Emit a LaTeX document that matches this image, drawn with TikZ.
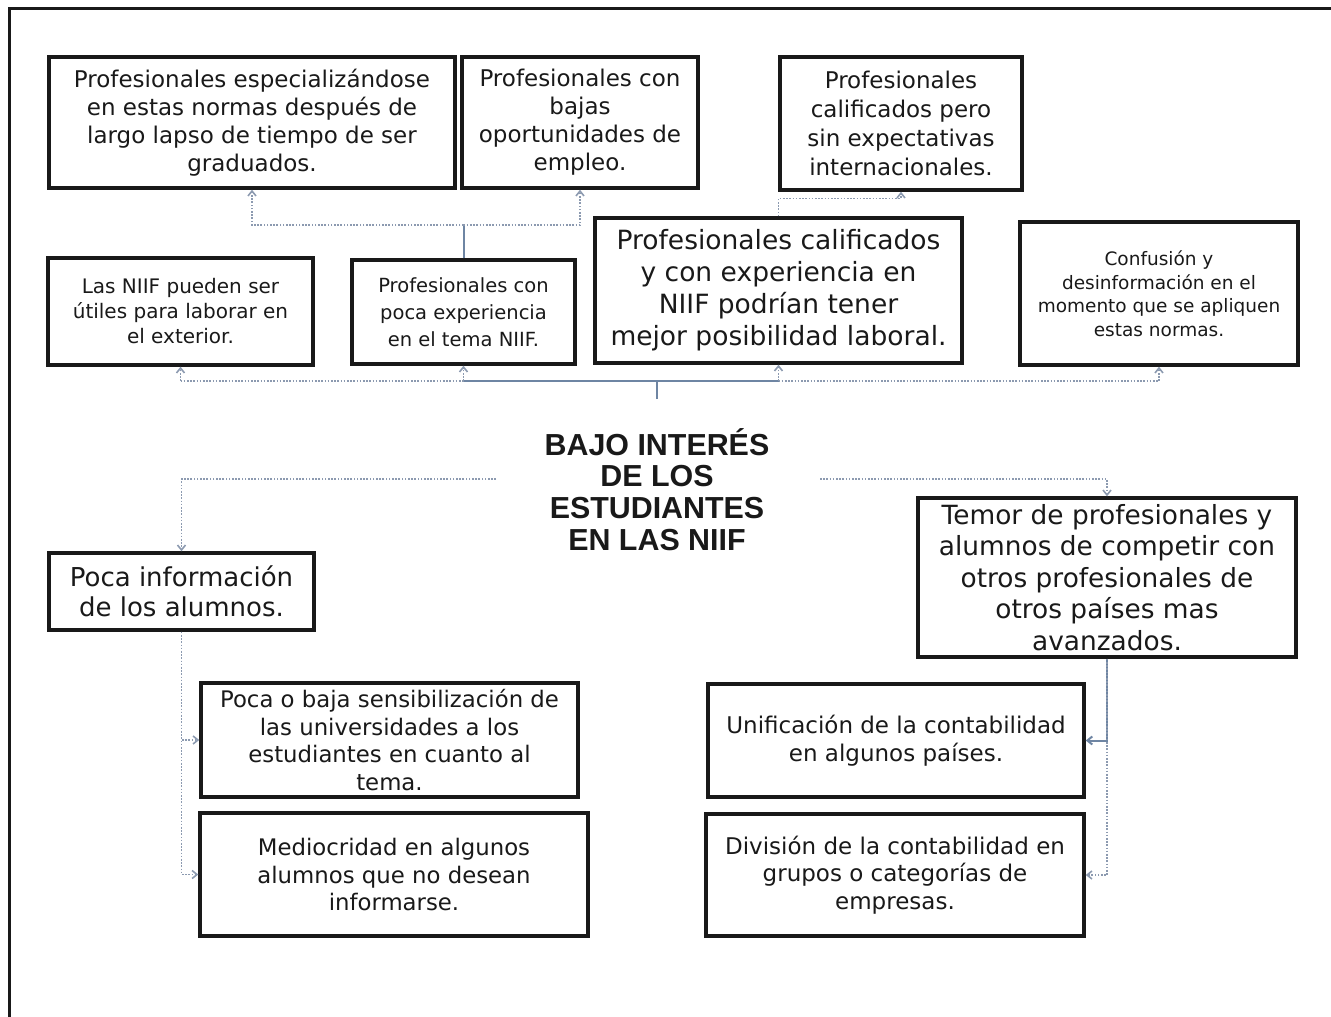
\documentclass[tikz,border=0pt]{standalone}
\usepackage{fontspec}
\setmainfont{DejaVu Sans}
\newfontfamily\titlefont{Liberation Sans}
\usetikzlibrary{arrows.meta}
\definecolor{linkblue}{HTML}{6E85A3}
\definecolor{dotblue}{HTML}{8C9AB0}
\begin{document}
\begin{tikzpicture}
            [x=1pt, y=-1pt,
             box/.style = {draw=black!90, line width=3.4pt, align=center, inner sep=0pt, text=black!90},
             link/.style = {draw=linkblue, line width=2pt},
             dotlink/.style = {draw=dotblue, line width=1.6pt, dash pattern=on 1.6pt off 1.6pt},
             tip/.style = {-{Straight Barb[length=5pt,width=8pt]}}]
            \useasboundingbox (0,0) rectangle (1331,1017);
            \draw[line width=3pt, black!90] (9,1017) -- (9,8) -- (1331,8);
            \node[box, minimum width=406, minimum height=131, font=\fontsize{23}{28}\selectfont] (A) at (252,122.5) {Profesionales especializándose\\en estas normas después de\\largo lapso de tiempo de ser\\graduados.};
            \node[box, minimum width=236, minimum height=131, font=\fontsize{23}{28}\selectfont] (B) at (580,122.5) {Profesionales con\\bajas\\oportunidades de\\empleo.};
            \node[box, minimum width=242, minimum height=133, font=\fontsize{23}{29}\selectfont] (C) at (901,123.5) {Profesionales\\calificados pero\\sin expectativas\\internacionales.};
            \node[box, minimum width=265, minimum height=107, font=\fontsize{20}{25}\selectfont] (D) at (180.5,311.5) {Las NIIF pueden ser\\útiles para laborar en\\el exterior.};
            \node[box, minimum width=223, minimum height=104, font=\fontsize{19.5}{27}\selectfont] (E) at (463.5,312) {Profesionales con\\poca experiencia\\en el tema NIIF.};
            \node[box, minimum width=367, minimum height=145, font=\fontsize{26.5}{32}\selectfont] (F) at (778.5,290.5) {Profesionales calificados\\y con experiencia en\\NIIF podrían tener\\mejor posibilidad laboral.};
            \node[box, minimum width=278, minimum height=143, font=\fontsize{18.5}{23.5}\selectfont] (G) at (1159,293.5) {Confusión y\\desinformación en el\\momento que se apliquen\\estas normas.};
            \node[align=center, text=black!90, font=\titlefont\bfseries\fontsize{30.4}{31.7}\selectfont] (T) at (657,489.5) {BAJO INTERÉS\\DE LOS\\ESTUDIANTES\\EN LAS NIIF};
            \node[box, minimum width=265, minimum height=77, font=\fontsize{26}{30}\selectfont] (H) at (181.5,591.5) {Poca información\\de los alumnos.};
            \node[box, minimum width=377, minimum height=114, font=\fontsize{22.8}{27.5}\selectfont] (I) at (389.5,740) {Poca o baja sensibilización de\\las universidades a los\\estudiantes en cuanto al\\tema.};
            \node[box, minimum width=388, minimum height=123, font=\fontsize{22.8}{27.5}\selectfont] (J) at (394,874.5) {Mediocridad en algunos\\alumnos que no desean\\informarse.};
            \node[box, minimum width=378, minimum height=159, font=\fontsize{26.4}{31.5}\selectfont] (K) at (1107,577.5) {Temor de profesionales y\\alumnos de competir con\\otros profesionales de\\otros países mas\\avanzados.};
            \node[box, minimum width=376, minimum height=113, font=\fontsize{23}{28}\selectfont] (L) at (896,740.5) {Unificación de la contabilidad\\en algunos países.};
            \node[box, minimum width=378, minimum height=122, font=\fontsize{23}{27.5}\selectfont] (M) at (895,875) {División de la contabilidad en\\grupos o categorías de\\empresas.};
            \coordinate (tn) at (657,399);
            \coordinate (hub) at (657,381);
            \coordinate (ehub) at (463.5,225);
            \coordinate (tl) at (496,479);
            \coordinate (tr) at (820,479);
            \draw[link] (tn) -- (hub);
            \draw[link] (E.south |- hub) -- (F.south |- hub);
            \draw[dotlink] (D.south |- hub) -- (E.south |- hub);
            \draw[dotlink] (F.south |- hub) -- (G.south |- hub);
            \draw[dotlink, tip] (D.south |- hub) -- (D.south);
            \draw[dotlink, tip] (E.south |- hub) -- (E.south);
            \draw[dotlink, tip] (F.south |- hub) -- (F.south);
            \draw[dotlink, tip] (G.south |- hub) -- (G.south);
            \draw[link] (E.north) -- (ehub);
            \draw[dotlink, tip] (ehub) -| (A.south);
            \draw[dotlink, tip] (ehub) -| (B.south);
            \draw[dotlink, tip] (F.north) -- ++(0,-18) -| (C.south);
            \draw[dotlink, tip] (tl) -| (H.north);
            \draw[dotlink, tip] (H.south) |- (I.west);
            \draw[dotlink, tip] (H.south) |- (J.west);
            \draw[dotlink, tip] (tr) -| (K.north);
            \draw[link, tip] (K.south) |- (L.east);
            \draw[dotlink, tip] (K.south) |- (M.east);
        \end{tikzpicture}
\end{document}
